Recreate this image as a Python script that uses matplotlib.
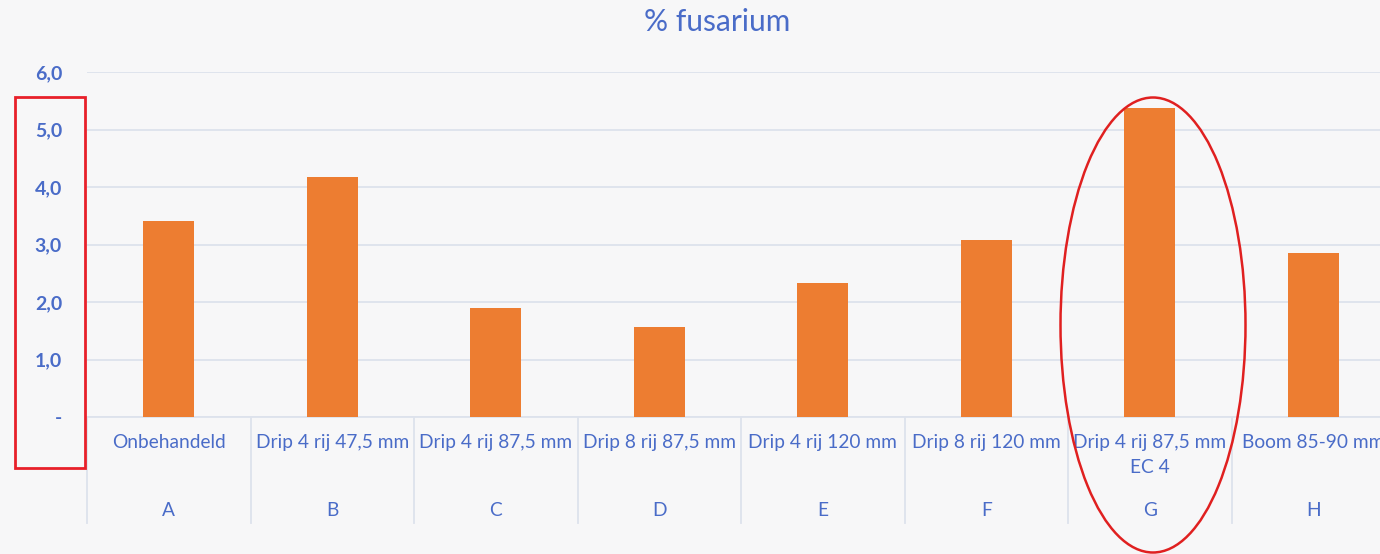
import matplotlib
matplotlib.use('Agg')
import matplotlib.pyplot as plt
from matplotlib.patches import Rectangle, Ellipse
from matplotlib.transforms import blended_transform_factory

plt.rcParams['font.family'] = ['Lato', 'DejaVu Sans']

codes = ['A', 'B', 'C', 'D', 'E', 'F', 'G', 'H']
treatments = ['Onbehandeld', 'Drip 4 rij 47,5 mm', 'Drip 4 rij 87,5 mm',
              'Drip 8 rij 87,5 mm', 'Drip 4 rij 120 mm', 'Drip 8 rij 120 mm',
              'Drip 4 rij 87,5 mm\nEC 4', 'Boom 85-90 mm']
fusarium = [3.41, 4.17, 1.90, 1.57, 2.33, 3.08, 5.37, 2.85]
yticks = [0, 1, 2, 3, 4, 5, 6]
ytick_labels = ['-', '1,0', '2,0', '3,0', '4,0', '5,0', '6,0']

bg = '#f7f7f8'
txt = '#4a6cc8'
grid = '#dde2ec'

fig = plt.figure(figsize=(13.8, 5.54), dpi=100, facecolor=bg)
ax = fig.add_axes([87 / 1380, 1 - 417 / 554, 1308 / 1380, 345 / 554])
ax.set_facecolor(bg)

x = list(range(len(codes)))
ax.bar(x, fusarium, width=0.31, color='#ed7d31', zorder=3)
ax.set_xlim(-0.5, len(codes) - 0.5)
ax.set_ylim(0, 6)
ax.set_yticks(yticks)
ax.set_yticklabels(ytick_labels, color=txt, fontsize=14, fontweight='bold')
ax.tick_params(axis='y', length=0, pad=18)
ax.set_xticks([])
ax.grid(axis='y', color=grid, linewidth=1.3, zorder=0)
for s in ['top', 'right', 'left']:
    ax.spines[s].set_visible(False)
ax.spines['bottom'].set_color(grid)
ax.spines['bottom'].set_linewidth(1.3)

# multi-level category axis (the chart runs past the right edge, as in the source)
tr = blended_transform_factory(ax.transData, ax.transAxes)
for i in range(len(codes)):
    ax.text(i, -17 / 345, treatments[i], transform=tr, ha='center', va='top',
            color=txt, fontsize=13.8, linespacing=1.55)
    ax.text(i, -94 / 345, codes[i], transform=tr, ha='center', va='center',
            color=txt, fontsize=13.8)
for i in range(len(codes) + 1):
    ax.plot([i - 0.5, i - 0.5], [0, -106 / 345], transform=tr, color=grid,
            linewidth=1.3, clip_on=False)

fig.text(717 / 1380, 1 - 22 / 554, '% fusarium', ha='center', va='center',
         color=txt, fontsize=21.5)

# red highlight marks
fig.patches.append(Rectangle((15 / 1380, 1 - 468 / 554), 70 / 1380, 371 / 554,
                             transform=fig.transFigure, fill=False,
                             edgecolor='#e8202a', linewidth=2))
fig.patches.append(Ellipse((1153 / 1380, 1 - 325 / 554), 185 / 1380, 455 / 554,
                           transform=fig.transFigure, fill=False,
                           edgecolor='#e02020', linewidth=1.8))

fig.savefig('out.png', dpi=100, facecolor=bg)
